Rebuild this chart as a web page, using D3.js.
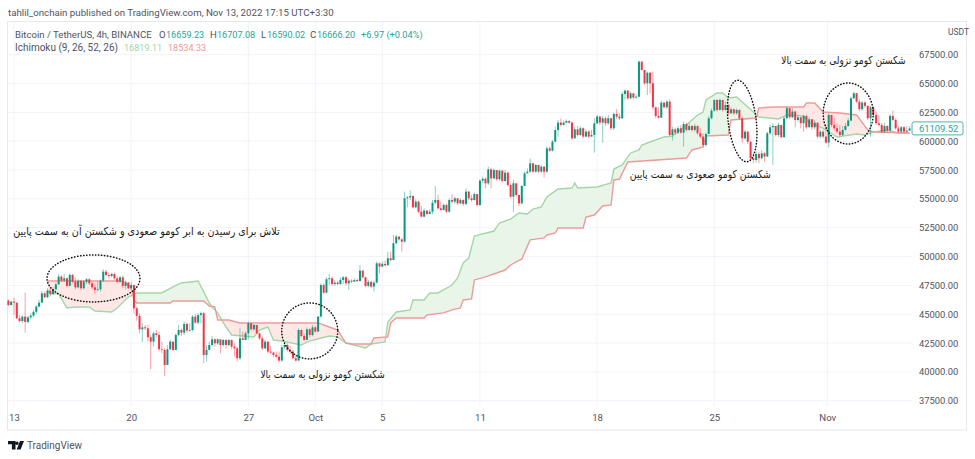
<!DOCTYPE html>
<html>
<head>
<meta charset="utf-8">
<script src="https://cdnjs.cloudflare.com/ajax/libs/d3/7.8.5/d3.min.js"></script>
<style>
body { margin: 0; background: #fff; }
svg { display: block; font-family: Roboto, sans-serif; }
.axis path, .axis line { stroke: none; }
.axis text { fill: #50535e; font-family: Roboto, sans-serif; }
</style>
</head>
<body>
<svg width="975" height="459"></svg>
<script>
// 4h bars. open = previous close
const firstOpen = 46170;
const closes = [45800,46090,46000,44650,44410,44790,44330,44730,44880,45200,45660,46000,46810,46470,47040,46730,47160,47590,48260,47910,48110,47450,48400,47820,47330,47880,47250,47820,48030,47680,47330,47100,47160,47910,48690,48400,48320,48490,48110,47820,48200,47450,47740,47250,47530,45510,44850,43690,43860,43780,43000,42620,43340,43200,41960,41900,40600,41960,42620,41900,43200,43630,43400,44150,43580,43630,44790,44270,44930,45080,41470,41900,42330,42820,42480,42820,42330,42770,42330,42770,42190,42040,41180,42910,42770,43340,44210,43690,44070,43340,42910,42040,42620,41760,41670,41470,41320,40980,42130,42330,41900,41760,41180,40980,43630,43110,42770,43690,43200,43860,43490,44790,47530,46870,48030,48110,47620,47740,47620,47970,48200,47680,47910,47820,47970,47880,48780,48200,47450,47800,47390,47740,49410,49130,49360,49240,49850,49700,51150,51730,51490,51290,55050,55130,55250,54270,54760,53890,53460,53980,53690,53890,54670,54900,54180,54040,54470,53890,54900,54760,55050,54610,54900,54560,55630,55050,54900,55420,54470,56580,56750,56350,57560,56780,57500,56700,57450,56550,57270,56200,55190,56350,55340,54610,56120,57220,57360,58080,57360,57940,57360,57790,57360,59380,59180,59960,60970,61610,61410,61610,61750,61610,60250,61030,60540,61120,60400,60830,60400,60540,61550,62130,61610,61990,61550,61990,61120,62360,62130,61990,64090,64380,63720,64150,63780,63860,66900,66180,65020,65940,65020,62940,62190,62040,63340,62940,63430,60540,61030,60740,61120,60740,61490,60970,61320,60970,61320,60690,60400,59670,60630,61990,62650,63580,62710,63580,62710,63140,62420,62770,62420,62710,61990,60250,60830,59960,58520,58370,58890,58520,58950,58670,60690,61210,61320,60540,61410,60340,61990,62860,62070,62570,61840,62070,61560,62190,61210,61900,61210,61610,60400,60830,60400,59880,62280,61410,61120,60830,60540,60980,61320,61790,63720,64160,63430,62770,63350,63060,61990,62940,62280,61560,61410,60830,61320,60920,62190,61840,61120,60830,61210,60830,60920,61109.52];
const highs = [46290,46180,46440,46000,44910,44880,46870,44850,45080,45370,45800,46240,47040,46960,47250,47390,47330,47740,48490,48400,48490,48200,48550,48490,48200,48030,47970,47970,48140,48110,47820,47680,47820,48030,48890,48840,48600,48600,48600,48320,48320,48320,47910,47820,47820,47390,45660,45080,44210,44070,44070,43200,43490,43630,43490,42620,42040,42330,42770,42620,43340,44070,43780,44360,44270,44210,44930,45020,45080,45220,45220,42330,42620,43110,42910,42910,42820,42820,42820,42820,42770,42480,42190,43780,43490,43490,44360,44270,44150,43980,43400,43060,42770,42620,42250,41760,41760,41760,42330,42530,42480,42250,41900,41470,43780,43690,43340,43860,43780,44070,43980,44850,47680,47680,48200,48490,48260,47970,47910,48200,48320,48320,48110,48030,48110,48110,49270,48840,48260,47970,47910,47910,49560,49470,49560,49650,50430,50430,51870,51870,51730,51580,55630,55250,55770,55340,54960,54850,54380,54180,54040,54100,54900,56120,55340,54760,54610,54610,55050,55420,55190,55050,55050,54960,55920,55680,55340,55540,55420,56700,56930,56870,57790,57710,57650,57500,57560,57360,57500,57360,56350,56640,56350,55340,56200,57360,57650,58520,58140,58030,57940,57940,57850,59530,59530,60110,61260,61840,61980,61780,61900,61840,61700,61260,61320,61320,61200,61030,60970,60970,61990,62270,62190,62190,62130,62270,61990,62480,62770,62420,64300,64500,64440,64300,64210,64100,66990,66900,66120,66030,65940,66030,62990,62940,63520,63430,63580,63630,61260,61200,61320,61410,61700,61610,61550,61410,61490,61380,61120,60690,60740,62190,62850,63630,63630,63690,63580,63430,63230,62940,62850,62850,62770,62130,60970,60830,59960,58950,59100,59100,59240,59100,60830,61410,61550,61320,61610,61320,62130,63000,62860,62860,62650,62280,62130,62280,62280,62070,61840,61840,61500,60980,61030,61410,62420,62280,61990,61560,61410,61320,61560,61990,63870,64300,64210,63640,63520,63490,63140,63060,63060,62570,62280,61560,61560,61380,62360,62650,61990,61320,61320,61320,61320,61320];
const lows = [45710,45740,44930,44560,44270,44210,43400,44210,44590,44730,45020,45600,45950,46380,46380,46520,46670,47040,47530,47820,47820,47330,47530,47680,47160,47250,47100,47160,47620,47530,47160,46750,46960,46960,47820,48260,48110,48200,47970,47680,47740,47250,47160,47160,47160,45080,44440,43340,42560,43630,42620,40220,42190,43000,41760,41610,39650,40600,41900,41840,41900,43060,43110,43200,43400,43490,43490,44150,44150,44210,40740,40890,41900,42190,42190,42330,41610,42190,42040,42190,41990,41320,40890,41030,42770,42770,42820,43580,43580,43290,42770,41900,41960,41610,41550,41260,41180,40800,40890,41960,41760,41550,41090,40890,41090,43000,42710,42770,43000,43110,43400,43490,44730,46750,46810,47530,47450,47450,47510,47530,47620,47510,47100,47680,47800,47770,47820,48110,47330,47330,47250,46960,47680,48550,49070,49130,49270,49590,49850,51090,51380,50420,51200,54270,54900,54180,54180,53750,53400,53400,53550,53690,53690,54560,54100,53980,53980,53750,53810,54610,54560,54470,54530,54380,54470,54900,54760,54850,54330,54380,56350,55920,56200,55920,56700,56580,56580,56410,56490,56060,55050,53890,55190,54380,54560,56120,57220,57270,57220,57270,57220,57270,56870,57270,59100,59100,59900,60400,61260,61490,61550,61490,60110,60250,60400,60450,60250,60340,60250,60400,59010,61490,61410,59880,61320,61410,60970,60970,61900,61840,61900,63580,63580,63630,63630,63690,63810,66120,64880,64010,64150,62770,61990,61960,62070,62850,62770,60450,60050,60540,60630,60630,59530,60830,60920,60830,60830,60540,60250,59530,59530,60630,61900,62560,62560,62650,62560,62650,62270,62360,62270,62300,61840,59820,60110,59760,58320,58080,58140,58080,58430,58230,58670,60540,57940,60400,60340,60250,60630,61900,61900,61990,61210,61700,61120,60830,61030,61500,60980,61030,60250,60250,60250,59760,59470,61210,60920,60690,60400,60460,60920,61270,61700,63640,63290,62590,62650,62880,61840,60400,62130,61410,61270,60690,60690,60750,60830,61730,60980,60690,60750,60750,60780,60920];

// Ichimoku leading spans, knots as [bar index] + [price]
const spanABars = [14,15,18,21,24,29,31,37,39,43,46,55,59,62,68,70,72,73,75,78,80,88,90,93,95,98,105,108,115,118,121,128,130,135,136,139,144,145,149,151,154,159,161,163,165,167,174,176,180,183,186,188,191,193,197,202,203,204,211,216,217,220,223,226,227,231,235,238,243,247,249,250,254,256,258,261,265,267,269,276,279,285,287,292,297,304,307,310,315,319,323];
const spanAPrices = [47100,46840,46750,45540,45630,45630,45280,45190,45540,46490,46840,46840,47360,47710,47880,46930,45970,45630,45110,43890,43200,43030,43630,43890,42760,42680,42330,42680,43110,43030,42500,42070,42420,42590,44330,45190,45370,46230,46230,46840,46840,47530,48140,49440,49870,51780,52210,52910,53250,53780,53690,54120,54300,55160,55860,55940,56380,55940,56030,56380,57590,57940,58980,59240,59670,60020,60370,60450,61400,62270,62530,63570,64180,64180,63750,63830,62970,62530,62100,61930,62270,62190,61580,61140,60360,60620,60540,60800,60970,60710,60710];
const spanBBars = [14,40,42,44,45,46,58,59,70,72,74,75,79,83,111,115,118,121,123,130,131,136,137,139,149,150,156,159,162,163,166,167,171,178,180,184,187,192,193,196,197,206,207,210,213,216,217,219,222,243,245,249,250,258,259,268,269,274,285,286,289,292,298,304,308,310,323];
const spanBPrices = [47880,47880,47790,47270,46230,45970,45970,46140,46140,45710,45630,44500,44500,44240,44240,43890,43630,42500,42420,42420,42940,43030,44240,44670,44670,44930,45110,45370,45540,46230,46320,47970,48230,48830,49270,49790,51440,51610,51870,52040,52470,52470,53430,53600,54380,54470,56640,56720,58200,58540,59240,59500,60450,60540,61840,62010,62880,62970,62970,63310,63310,62530,62450,62270,60970,60800,60710];

const priceTicks = d3.range(37500, 67501, 2500);
const timeTickBars = [2,44,86,110,134,169,211,253,293.5];
const timeTickLabels = ["13","20","27","Oct","5","11","18","25","Nov"];

// dotted circles and the notes drawn on the chart
const circleBars = [30.5,108,263,301];
const circlePrices = [48100,43550,61750,62400];
const circleRx = [46.5,28,14,25];
const circleRy = [23.5,28,41,30.5];
const circleTilt = [0,0,-7,0];
const notes = ["تلاش برای رسیدن به ابر کومو صعودی و شکستن آن به سمت پایین","شکستن کومو نزولی به سمت بالا","شکستن کومو صعودی به سمت پایین","شکستن کومو نزولی به سمت بالا"];
const noteBars = [49.5,112.6,248,299.3];
const notePrices = [51870,39470,56810,66690];
const noteStretch = [0.875,0.82,0.845,0.82];

const upColor = "#089981";
const downColor = "#f23645";
const spanAColor = "#a5d6a7";
const spanBColor = "#ef9a9a";

const svg = d3.select("svg");
const plotTop = 21, plotBottom = 406, frameBottom = 430, plotRight = 912;

const x = d3.scaleLinear().domain([0, 323]).range([8.4, 909.6]);
const y = d3.scaleLinear().domain([37500, 67500]).range([400.7, 54.7]);

// frame and grid
svg.append("g").selectAll("line").data(priceTicks).enter().append("line")
    .attr("x1", 8).attr("x2", plotRight)
    .attr("y1", d => y(d)).attr("y2", d => y(d))
    .attr("stroke", "#f0f3fa");
svg.append("g").selectAll("line").data(timeTickBars).enter().append("line")
    .attr("x1", d => x(d)).attr("x2", d => x(d))
    .attr("y1", plotTop).attr("y2", plotBottom)
    .attr("stroke", "#f0f3fa");
svg.append("rect").attr("x", 7.5).attr("y", 21.5).attr("width", 959).attr("height", frameBottom - 21.5)
    .attr("fill", "none").attr("stroke", "#e6e8f0");

// cloud
const spanA = spanABars.map((b, i) => ({ bar: b, price: spanAPrices[i] }));
const spanB = spanBBars.map((b, i) => ({ bar: b, price: spanBPrices[i] }));
const spanLine = d3.line().x(d => x(d.bar)).y(d => y(d.price));
const toBottom = d3.area().x(d => x(d.bar)).y0(plotBottom).y1(d => y(d.price));
const toTop = d3.area().x(d => x(d.bar)).y0(plotTop).y1(d => y(d.price));

const defs = svg.append("defs");
defs.append("clipPath").attr("id", "aboveB").append("path").attr("d", toTop(spanB));
defs.append("clipPath").attr("id", "aboveA").append("path").attr("d", toTop(spanA));

svg.append("path").attr("d", toBottom(spanA)).attr("fill", "#eaf5ea").attr("clip-path", "url(#aboveB)");
svg.append("path").attr("d", toBottom(spanB)).attr("fill", "#fde8e6").attr("clip-path", "url(#aboveA)");
svg.append("path").attr("d", spanLine(spanA)).attr("fill", "none").attr("stroke", spanAColor).attr("stroke-width", 1.4);
svg.append("path").attr("d", spanLine(spanB)).attr("fill", "none").attr("stroke", spanBColor).attr("stroke-width", 1.4);

// candles
const candles = closes.map((c, i) => ({
    bar: i,
    open: i == 0 ? firstOpen : closes[i - 1],
    close: c,
    high: highs[i],
    low: lows[i]
}));
const candle = svg.append("g").selectAll("g").data(candles).enter().append("g")
    .attr("fill", d => d.close >= d.open ? upColor : downColor)
    .attr("stroke", d => d.close >= d.open ? upColor : downColor);
candle.append("line")
    .attr("x1", d => x(d.bar)).attr("x2", d => x(d.bar))
    .attr("y1", d => y(Math.max(d.high, d.open, d.close))).attr("y2", d => y(Math.min(d.low, d.open, d.close)))
    .attr("stroke-width", 0.8).attr("stroke-opacity", 0.6);
candle.append("rect")
    .attr("x", d => x(d.bar) - 1).attr("width", 2)
    .attr("y", d => y(Math.max(d.open, d.close)))
    .attr("height", d => Math.max(0.7, Math.abs(y(d.open) - y(d.close))))
    .attr("stroke", "none");

// axes
const priceAxis = svg.append("g").attr("class", "axis").attr("transform", `translate(${plotRight},0)`)
    .call(d3.axisRight(y).tickValues(priceTicks).tickFormat(d => d.toFixed(2)).tickSize(0).tickPadding(7));
priceAxis.selectAll("text").attr("font-size", 9.4);
const timeAxis = svg.append("g").attr("class", "axis").attr("transform", `translate(0,${plotBottom})`)
    .call(d3.axisBottom(x).tickValues(timeTickBars).tickFormat((d, i) => timeTickLabels[i]).tickSize(0).tickPadding(8));
timeAxis.selectAll("text").attr("font-size", 9.6).attr("fill", (d, i) => i == 3 || i == 8 ? "#131722" : "#50535e");

// annotations
svg.append("g").selectAll("ellipse").data(circleBars).enter().append("ellipse")
    .attr("rx", (d, i) => circleRx[i]).attr("ry", (d, i) => circleRy[i])
    .attr("transform", (d, i) => `translate(${x(d)},${y(circlePrices[i])}) rotate(${circleTilt[i]})`)
    .attr("fill", "none").attr("stroke", "#111").attr("stroke-width", 1.5)
    .attr("stroke-linecap", "round").attr("stroke-dasharray", "0.4 2.6");
svg.append("g").selectAll("text").data(notes).enter().append("text")
    .attr("transform", (d, i) => `translate(${x(noteBars[i])},${y(notePrices[i])}) scale(${noteStretch[i]},1)`)
    .attr("text-anchor", "middle").attr("direction", "rtl")
    .attr("font-family", "'DejaVu Sans', sans-serif").attr("font-size", 11).attr("fill", "#1a1a1a")
    .text(d => d);

// last price label
const lastClose = closes[closes.length - 1];
svg.append("rect").attr("x", plotRight).attr("y", y(lastClose) - 6.5).attr("width", 51).attr("height", 13).attr("rx", 2)
    .attr("fill", "#fff").attr("stroke", "#4db6ac").attr("stroke-width", 1);
svg.append("text").attr("x", plotRight + 7).attr("y", y(lastClose) + 3.4)
    .attr("font-size", 9.4).attr("fill", "#26a69a").text(lastClose.toFixed(2));
svg.append("text").attr("x", 948).attr("y", 35).attr("font-size", 8.5).attr("fill", "#50535e").text("USDT");

// header and legend
svg.append("text").attr("x", 8).attr("y", 15.5).attr("font-size", 9.7).attr("fill", "#50535e")
    .text("tahlil_onchain published on TradingView.com, Nov 13, 2022 17:15 UTC+3:30");

const legendLabels = ["Bitcoin / TetherUS, 4h, BINANCE", "O", "H", "L", "C"];
const legendLabelX = [15, 159, 210, 261, 310];
const legendValues = ["16659.23", "16707.08", "16590.02", "16666.20"];
const legendValueX = [166, 217, 267, 317];
svg.append("g").selectAll("text").data(legendLabels).enter().append("text")
    .attr("x", (d, i) => legendLabelX[i]).attr("y", 37.5)
    .attr("font-size", 9.6).attr("fill", "#50535e").text(d => d);
svg.append("g").selectAll("text").data(legendValues).enter().append("text")
    .attr("x", (d, i) => legendValueX[i]).attr("y", 37.5)
    .attr("font-size", 9.1).attr("fill", "#26a69a").text(d => d);
svg.append("text").attr("x", 361).attr("y", 37.5).attr("font-size", 9.2).attr("fill", "#26a69a").text("+6.97 (+0.04%)");
svg.append("text").attr("x", 15).attr("y", 51).attr("font-size", 10).attr("fill", "#50535e").text("Ichimoku (9, 26, 52, 26)");
svg.append("text").attr("x", 124).attr("y", 51).attr("font-size", 9.1).attr("fill", spanAColor).text("16819.11");
svg.append("text").attr("x", 168).attr("y", 51).attr("font-size", 9.1).attr("fill", spanBColor).text("18534.33");

// logo
svg.append("path").attr("fill", "#131722")
    .attr("d", "M8 441h7.5v8.5h-3.6v-5.2H8zM17 441.5a1.7 1.7 0 1 1 0 3.4a1.7 1.7 0 0 1 0-3.4zM20 441h4l-3.4 8.5h-3.9z");
svg.append("text").attr("x", 27).attr("y", 449).attr("font-size", 10).attr("fill", "#50535e").text("TradingView");
</script>
</body>
</html>
